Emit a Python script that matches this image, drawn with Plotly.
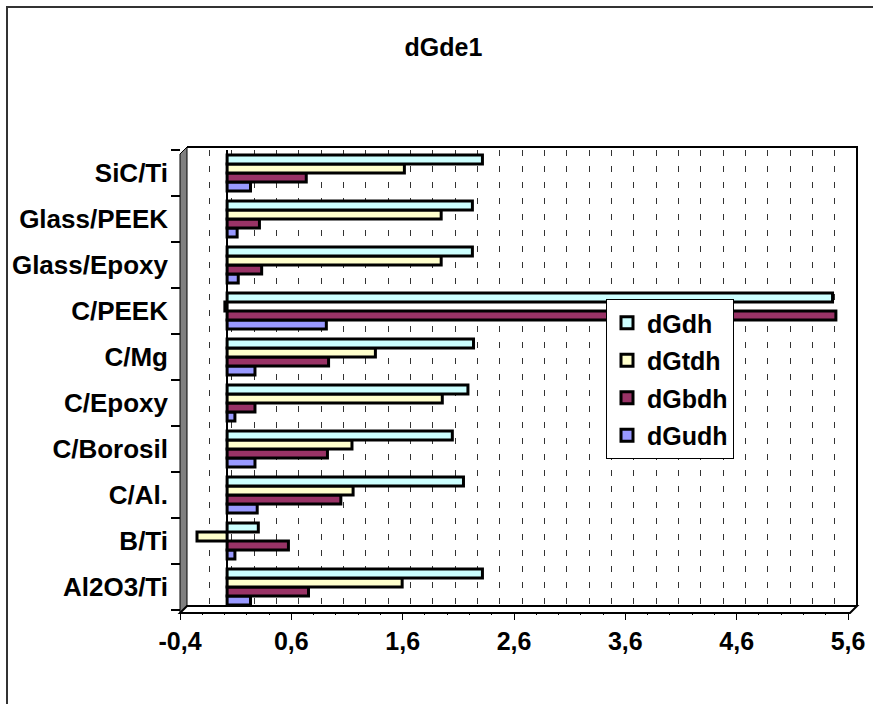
import plotly.graph_objects as go

categories = ["Al2O3/Ti", "B/Ti", "C/Al.", "C/Borosil", "C/Epoxy", "C/Mg",
              "C/PEEK", "Glass/Epoxy", "Glass/PEEK", "SiC/Ti"]
dGdh  = [2.29, 0.28, 2.12, 2.02, 2.16, 2.21, 5.43, 2.20, 2.20, 2.29]
dGtdh = [1.57, -0.27, 1.13, 1.12, 1.93, 1.33, -0.02, 1.92, 1.92, 1.59]
dGbdh = [0.73, 0.55, 1.02, 0.90, 0.25, 0.91, 5.46, 0.31, 0.29, 0.71]
dGudh = [0.21, 0.07, 0.27, 0.25, 0.07, 0.25, 0.89, 0.10, 0.09, 0.21]
tick_vals = [-0.4, 0.6, 1.6, 2.6, 3.6, 4.6, 5.6]
tick_text = ["-0,4", "0,6", "1,6", "2,6", "3,6", "4,6", "5,6"]
x_range = [-0.4, 5.6]

series = [("dGudh", dGudh, "#9999FF", 4), ("dGbdh", dGbdh, "#993366", 3),
          ("dGtdh", dGtdh, "#FFFFCC", 2), ("dGdh", dGdh, "#CCFFFF", 1)]

FONT = "Liberation Sans, Arial, sans-serif"
fig = go.Figure()
# empty traces: back-wall gridline axis (x) and front tick-label axis (x3)
fig.add_trace(go.Scatter(x=[], y=[], xaxis="x", yaxis="y", showlegend=False, hoverinfo="skip"))
for name, vals, col, rank in series:
    fig.add_trace(go.Bar(
        y=categories, x=vals, name=name, orientation="h",
        xaxis="x2", yaxis="y",
        marker=dict(color=col, line=dict(color="black", width=3)),
        legendgroup=name, legendrank=rank,
    ))
fig.add_trace(go.Scatter(x=[], y=[], xaxis="x3", yaxis="y", showlegend=False, hoverinfo="skip"))

W, H = 873, 704
L, R, T, B = 180, 858, 150, 610

def px(x):
    return (x - L) / (R - L)

def py(y):
    return (B - y) / (B - T)

shapes = [
    dict(type="rect", xref="paper", yref="paper", x0=px(7), x1=px(900), y0=py(730), y1=py(7),
         line=dict(color="#333333", width=2), fillcolor="rgba(0,0,0,0)", layer="below"),
    dict(type="path", xref="paper", yref="paper",
         path=f"M {px(180)},{py(613)} L {px(187)},{py(606)} L {px(187)},{py(147)} L {px(180)},{py(154)} Z",
         fillcolor="#808080", line=dict(color="black", width=1), layer="above"),
    dict(type="path", xref="paper", yref="paper",
         path=f"M {px(180)},{py(613)} L {px(850)},{py(613)} L {px(857)},{py(606)} L {px(187)},{py(606)} Z",
         fillcolor="white", line=dict(color="black", width=2), layer="above"),
    dict(type="path", xref="paper", yref="paper",
         path=f"M {px(187)},{py(147)} L {px(857)},{py(147)} L {px(857)},{py(606)}",
         line=dict(color="black", width=2), layer="above"),
]

fig.update_layout(
    width=W, height=H,
    margin=dict(l=L, r=W - R, t=T, b=H - B, pad=0, autoexpand=False),
    paper_bgcolor="white", plot_bgcolor="rgba(0,0,0,0)",
    barmode="group", bargap=0.22, bargroupgap=0.0,
    font=dict(family=FONT, size=22, color="black", weight="bold"),
    title=dict(text="dGde1", x=0.508, xanchor="center", y=1 - 47 / H, yanchor="middle",
               font=dict(family=FONT, size=25, color="black", weight="bold")),
    xaxis=dict(domain=[px(187), px(857)], range=x_range, anchor="y",
               showticklabels=False, ticks="", automargin=False,
               tickvals=tick_vals,
               showgrid=True, gridcolor="#333333", gridwidth=1, griddash="6px,10px",
               minor=dict(dtick=0.2, tick0=-0.4, showgrid=True, gridcolor="#333333",
                          griddash="6px,10px", gridwidth=1),
               zeroline=False, showline=False, fixedrange=True),
    xaxis2=dict(domain=[px(182.5), px(851.5)], range=x_range, anchor="y",
                showticklabels=False, ticks="", automargin=False,
                showgrid=False, zeroline=True, zerolinecolor="black", zerolinewidth=1.5,
                showline=False, fixedrange=True),
    xaxis3=dict(domain=[px(180), px(848)], range=x_range, anchor="y",
                tickvals=tick_vals, ticktext=tick_text, automargin=False,
                showgrid=False, zeroline=False,
                ticks="outside", ticklen=9, tickcolor="black", tickwidth=1,
                minor=dict(dtick=0.2, tick0=-0.4, showgrid=False, ticks="outside", ticklen=4,
                           tickcolor="black"),
                tickfont=dict(family=FONT, size=25, color="black", weight="bold"),
                showline=False, fixedrange=True),
    yaxis=dict(type="category", categoryorder="array", categoryarray=categories,
               anchor="free", position=0, automargin=False,
               ticks="outside", tickson="boundaries", ticklen=9, tickcolor="black", tickwidth=1.5,
               ticklabelstandoff=12,
               showgrid=False, zeroline=False, showline=False,
               tickfont=dict(family=FONT, size=26, color="black", weight="bold")),
    legend=dict(x=px(606), y=py(299), xanchor="left", yanchor="top",
                bgcolor="white", bordercolor="black", borderwidth=1,
                traceorder="grouped", tracegroupgap=2,
                font=dict(family=FONT, size=25, color="black", weight="bold")),
    shapes=shapes,
    showlegend=True,
)

fig.write_html("out.html")
